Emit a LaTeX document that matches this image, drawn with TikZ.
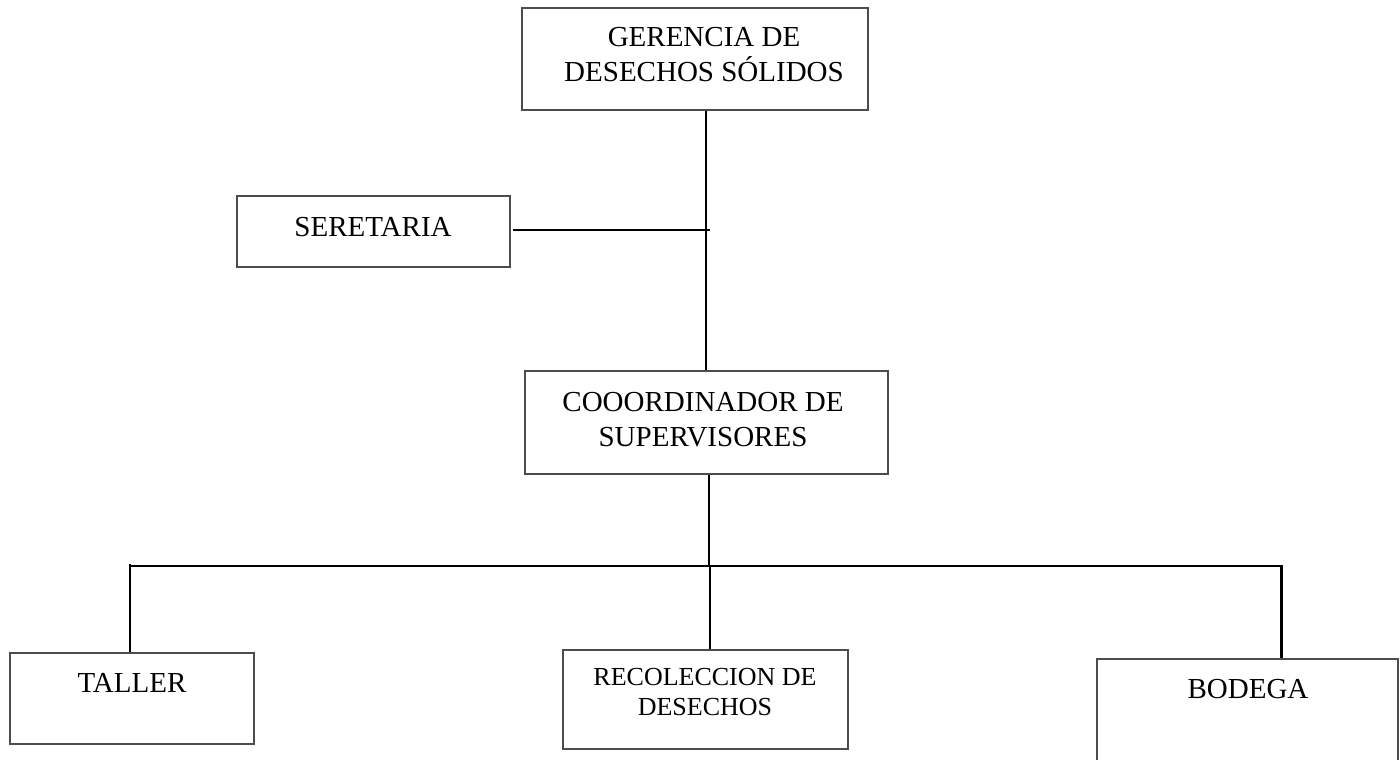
\documentclass[tikz,border=0pt]{standalone}
\usepackage{fontspec}
\setmainfont{Liberation Serif}
\begin{document}
\begin{tikzpicture}[x=0.5pt,y=-0.5pt,
  orgbox/.style={draw=black!70, line width=0.6pt, rectangle, inner sep=0pt},
  lbl/.style={font=\fontsize{14.5}{17.5}\selectfont, align=center, anchor=base, inner sep=0pt},
  lblsmall/.style={font=\fontsize{13}{15}\selectfont, align=center, anchor=base, inner sep=0pt},
  conn/.style={line width=1.2pt, black}]
\useasboundingbox (0,0) rectangle (1400,759);
\clip (0,0) rectangle (1400,759);
% boxes
\node[orgbox, minimum width=173pt, minimum height=51pt] (g) at (695,59) {};
\node[orgbox, minimum width=136.5pt, minimum height=35.5pt] (s) at (373.5,231.5) {};
\node[orgbox, minimum width=181.5pt, minimum height=51.5pt] (c) at (706.5,422.5) {};
\node[orgbox, minimum width=122pt, minimum height=45.5pt] (t) at (132,698.5) {};
\node[orgbox, minimum width=142.5pt, minimum height=49.5pt] (r) at (705.5,699.5) {};
\node[orgbox, minimum width=150.5pt, minimum height=65.5pt] (b) at (1247.5,724.5) {};
% texts (base anchor = baseline of the last line)
\node[lbl] (gt) at (704,82) {GERENCIA DE\\DESECHOS SÓLIDOS};
\node[lbl] (st) at (373,236) {SERETARIA};
\node[lbl] (ct) at (703,446) {COOORDINADOR DE\\SUPERVISORES};
\node[lbl] (tt) at (132,692) {TALLER};
\node[lblsmall] (rt) at (705,715) {RECOLECCION DE\\DESECHOS};
\node[lbl] (bt) at (1248,698) {BODEGA};
% junctions
\coordinate (j1) at (706,230);
\coordinate (j1e) at (710,230);
\coordinate (j2) at (709,566);
\coordinate (bl) at (130,566);
\coordinate (br) at (1283,566);
\coordinate (rl) at (710,566);
\coordinate (bv) at (1281.5,566);
% connectors
\draw[conn] (g.south -| j1) -- (c.north -| j1);
\draw[conn] ([xshift=1pt]s.east |- j1e) -- (j1e);
\draw[conn] (c.south -| j2) -- (j2);
\draw[conn] (bl) -- (br);
\draw[conn] ([yshift=1pt]bl) -- (t.north -| bl);
\draw[conn] (rl) -- (r.north -| rl);
\draw[conn] (bv) -- (b.north -| bv);
\end{tikzpicture}
\end{document}
